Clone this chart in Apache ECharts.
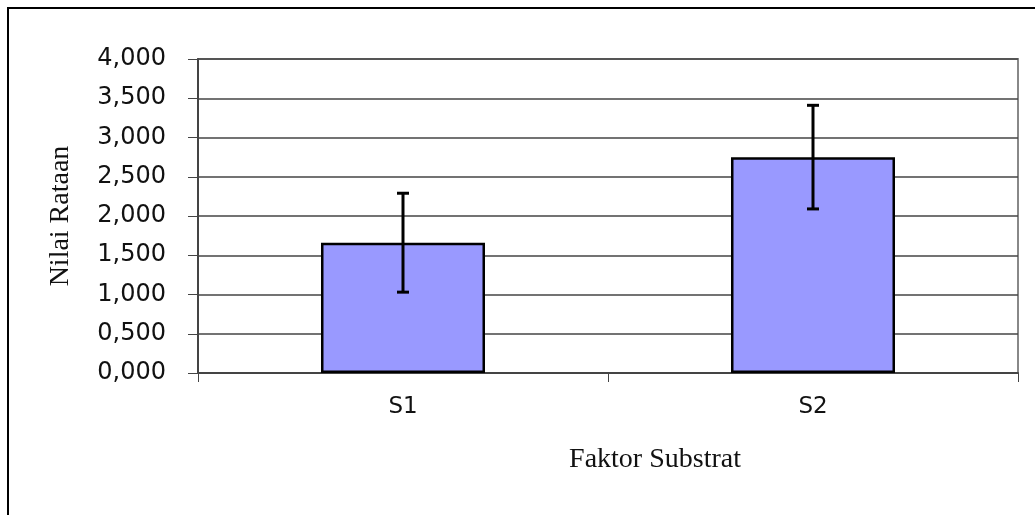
<!DOCTYPE html>
<html>
<head>
<meta charset="utf-8">
<script src="https://cdn.jsdelivr.net/npm/echarts@6/dist/echarts.min.js"></script>
<style>
  html, body { margin: 0; padding: 0; background: #fff; }
  #chart { width: 1035px; height: 515px; }
</style>
</head>
<body>
<div id="chart"></div>
<script>
  // data
  var categories = ['S1', 'S2'];
  var means = [1.66, 2.75];
  var errors = [0.63, 0.66];

  var errorData = means.map(function (m, i) {
    return [i, m - errors[i], m + errors[i]];
  });

  var chart = echarts.init(document.getElementById('chart'));

  var option = {
    backgroundColor: '#fff',
    animation: false,
    //region frame
    graphic: [{
      type: 'rect',
      shape: { x: 8, y: 8, width: 1100, height: 600 },
      style: { fill: 'none', stroke: '#000', lineWidth: 2 },
      silent: true
    }],
    //endregion
    grid: {
      left: 198,
      right: 17,
      top: 59,
      bottom: 142,
      show: true,
      borderColor: '#888',
      borderWidth: 2
    },
    //region axes
    xAxis: {
      type: 'category',
      data: categories,
      boundaryGap: true,
      name: 'Faktor Substrat',
      nameLocation: 'middle',
      nameGap: 73,
      nameTextStyle: {
        fontFamily: 'Liberation Serif',
        fontSize: 28,
        color: '#111',
        padding: [0, 0, 0, 94]
      },
      axisLine: { lineStyle: { color: '#444', width: 2 } },
      axisTick: { show: true, alignWithLabel: false, length: 9, lineStyle: { color: '#444' } },
      axisLabel: {
        margin: 23,
        fontFamily: 'DejaVu Sans',
        fontSize: 23,
        color: '#111'
      }
    },
    yAxis: {
      type: 'value',
      min: 0,
      max: 4,
      interval: 0.5,
      name: 'Nilai Rataan',
      nameLocation: 'middle',
      nameRotate: 90,
      nameGap: 123,
      nameTextStyle: {
        fontFamily: 'Liberation Serif',
        fontSize: 28,
        color: '#111'
      },
      axisLine: { show: true, lineStyle: { color: '#444', width: 2 } },
      axisTick: { show: true, length: 10, lineStyle: { color: '#444' } },
      axisLabel: {
        margin: 32,
        fontFamily: 'DejaVu Sans',
        fontSize: 24,
        color: '#111',
        formatter: function (v) {
          return v.toFixed(3).replace('.', ',');
        }
      },
      splitLine: { show: true, lineStyle: { color: '#444', width: 1.5 } }
    },
    //endregion
    //region series
    series: [
      {
        type: 'bar',
        data: means,
        barWidth: '40%',
        itemStyle: {
          color: '#9999FF',
          borderColor: '#000',
          borderWidth: 2.5
        }
      },
      {
        type: 'custom',
        data: errorData,
        z: 5,
        renderItem: function (params, api) {
          var x = api.value(0);
          var lo = api.coord([x, api.value(1)]);
          var hi = api.coord([x, api.value(2)]);
          var half = 6;
          var st = { stroke: '#000', lineWidth: 3 };
          return {
            type: 'group',
            children: [
              { type: 'line', shape: { x1: lo[0], y1: lo[1], x2: hi[0], y2: hi[1] }, style: st },
              { type: 'line', shape: { x1: lo[0] - half, y1: lo[1], x2: lo[0] + half, y2: lo[1] }, style: st },
              { type: 'line', shape: { x1: hi[0] - half, y1: hi[1], x2: hi[0] + half, y2: hi[1] }, style: st }
            ]
          };
        }
      }
    ]
    //endregion
  };

  chart.setOption(option);
</script>
</body>
</html>
